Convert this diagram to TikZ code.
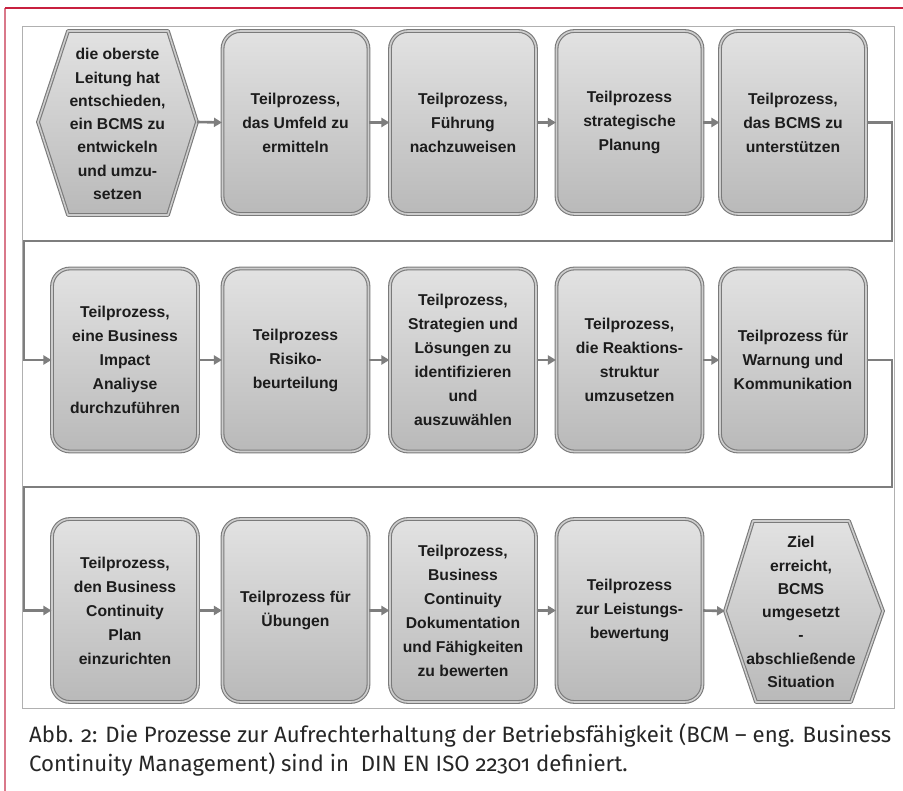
\documentclass[tikz,border=0pt]{standalone}
\usepackage{fontspec}
\setmainfont{Liberation Sans}
\newfontfamily\capfont[Numbers=OldStyle]{Fira Sans}
\usetikzlibrary{arrows.meta}
\definecolor{frameRed}{HTML}{C8203F}
\definecolor{framePink}{HTML}{D9788A}
\definecolor{frameGray}{HTML}{B0B0B0}
\definecolor{boxTop}{HTML}{E2E2E2}
\definecolor{boxBot}{HTML}{B9B9B9}
\definecolor{boxEdge}{HTML}{7A7A7A}
\definecolor{boxRing}{HTML}{CDCDCD}
\definecolor{conn}{HTML}{7E7E7E}
\definecolor{txt}{HTML}{1C1C1C}
\definecolor{capText}{HTML}{262626}
\begin{document}
\begin{tikzpicture}[x=1pt,y=-1pt,
  procbox/.style={rounded corners=18pt, minimum width=146pt, minimum height=183pt,
    inner sep=0pt, top color=boxTop, bottom color=boxBot, draw=boxEdge,
    line width=1.1pt, double=boxRing, double distance=1.6pt,
    align=center, text=txt, font=\bfseries\fontsize{15.7}{24}\selectfont},
  hexshape/.style={top color=boxTop, bottom color=boxBot, draw=boxEdge,
    line width=1.1pt, double=boxRing, double distance=1.6pt, line join=round},
  hextext/.style={align=center, inner sep=0pt, text=txt,
    font=\bfseries\fontsize{15.7}{23.3}\selectfont},
  arrowconn/.style={draw=conn, line width=2.6pt, -{Triangle[length=8pt,width=9pt]}},
  routeconn/.style={draw=conn, line width=2.8pt, -{Triangle[length=8pt,width=9pt]}},
  capline/.style={anchor=base west, inner sep=0pt, text=capText,
    font=\capfont\fontsize{22.2}{26}\selectfont}
]
\useasboundingbox (0,0) rectangle (903,791);
\fill[white] (0,0) rectangle (903,791);

% outer page lines
\draw[framePink, line width=1.3pt] (5,8) -- (5,791);
\draw[frameRed, line width=1.3pt] (5,8) -- (903,8);

% inner gray frame
\draw[frameGray, line width=1pt] (22,27) rectangle (894,708);

% routing coordinates
\coordinate (c1) at (892,241);
\coordinate (c2) at (24,241);
\coordinate (c3) at (892,487);
\coordinate (c4) at (24,487);

% ---------- row 1 ----------
\path[hexshape] (38,122) -- (68,31) -- (168,31) -- (197,122) -- (168,215) -- (68,215) -- cycle;
\node[hextext] (h1) at (117.5,124) {die oberste\\Leitung hat\\entschieden,\\ein BCMS zu\\entwickeln\\und umzu-\\setzen};
\coordinate (h1e) at (197,122);

\node[procbox] (b12) at (295.5,122.5) {Teilprozess,\\das Umfeld zu\\ermitteln};
\node[procbox] (b13) at (463,122.5) {Teilprozess,\\Führung\\nachzuweisen};
\node[procbox] (b14) at (629.5,122.5) {Teilprozess\\strategische\\Planung};
\node[procbox] (b15) at (793,122.5) {Teilprozess,\\das BCMS zu\\unterstützen};

% ---------- row 2 ----------
\node[procbox] (b21) at (125,360) {Teilprozess,\\eine Business\\Impact\\Analiyse\\durchzuführen};
\node[procbox] (b22) at (295.5,360) {Teilprozess\\Risiko-\\beurteilung};
\node[procbox] (b23) at (463,360) {Teilprozess,\\Strategien und\\Lösungen zu\\identifizieren\\und\\auszuwählen};
\node[procbox] (b24) at (629.5,360) {Teilprozess,\\die Reaktions-\\struktur\\umzusetzen};
\node[procbox] (b25) at (793,360) {Teilprozess für\\Warnung und\\Kommunikation};

% ---------- row 3 ----------
\node[procbox] (b31) at (125,610.5) {Teilprozess,\\den Business\\Continuity\\Plan\\einzurichten};
\node[procbox] (b32) at (295.5,610.5) {Teilprozess für\\Übungen};
\node[procbox] (b33) at (463,610.5) {Teilprozess,\\Business\\Continuity\\Dokumentation\\und Fähigkeiten\\zu bewerten};
\node[procbox] (b34) at (629.5,610.5) {Teilprozess\\zur Leistungs-\\bewertung};

\path[hexshape] (725,611) -- (753,521) -- (849,521) -- (883,611) -- (851,702) -- (756,702) -- cycle;
\node[hextext] (h2) at (801,612) {Ziel\\erreicht,\\BCMS\\umgesetzt\\-\\abschließende\\Situation};
\coordinate (h2w) at (725,611);

% ---------- connectors ----------
\draw[arrowconn] (h1e) -- (b12.west);
\draw[arrowconn] (b12.east) -- (b13.west);
\draw[arrowconn] (b13.east) -- (b14.west);
\draw[arrowconn] (b14.east) -- (b15.west);
\draw[routeconn] (b15.east) -| (c1) -- (c2) |- (b21.west);

\draw[arrowconn] (b21.east) -- (b22.west);
\draw[arrowconn] (b22.east) -- (b23.west);
\draw[arrowconn] (b23.east) -- (b24.west);
\draw[arrowconn] (b24.east) -- (b25.west);
\draw[routeconn] (b25.east) -| (c3) -- (c4) |- (b31.west);

\draw[arrowconn] (b31.east) -- (b32.west);
\draw[arrowconn] (b32.east) -- (b33.west);
\draw[arrowconn] (b33.east) -- (b34.west);
\draw[arrowconn] (b34.east) -- (h2w);

% ---------- caption ----------
\node[capline] (cap1) at (29,742) {Abb. 2: Die Prozesse zur Aufrechterhaltung der Betriebsfähigkeit (BCM – eng. Business};
\node[capline] (cap2) at (29,771) {Continuity Management) sind in\ \ DIN EN ISO 22301 definiert.};
\end{tikzpicture}
\end{document}
